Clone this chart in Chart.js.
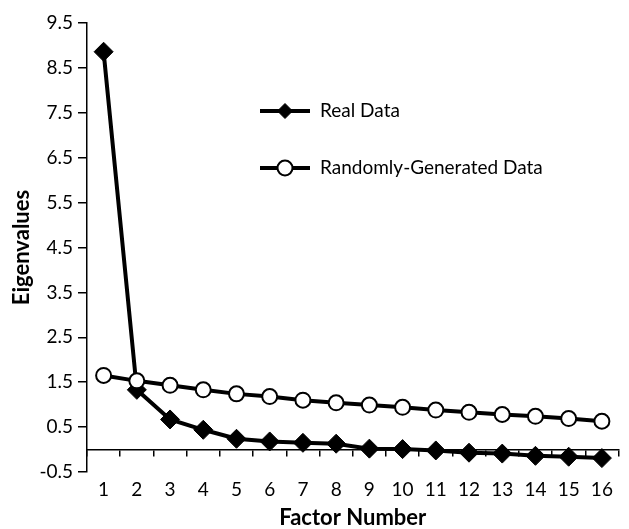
<!DOCTYPE html>
<html>
<head>
<meta charset="utf-8">
<script src="https://cdn.jsdelivr.net/npm/chart.js@4.4.1/dist/chart.umd.min.js"></script>
<style>
  html, body { margin: 0; padding: 0; background: #fff; }
  #wrap { width: 629px; height: 529px; }
</style>
</head>
<body>
<div id="wrap"><canvas id="screeChart" width="629" height="529"></canvas></div>
<script>
//SETUP
const factors = ['1', '2', '3', '4', '5', '6', '7', '8', '9', '10', '11', '12', '13', '14', '15', '16'];
const realData = [8.86, 1.33, 0.67, 0.44, 0.24, 0.18, 0.15, 0.13, 0.02, 0.01, -0.02, -0.07, -0.09, -0.14, -0.16, -0.19];
const randomData = [1.65, 1.53, 1.43, 1.33, 1.24, 1.18, 1.10, 1.04, 0.99, 0.94, 0.88, 0.83, 0.78, 0.74, 0.69, 0.63];
const seriesNames = ['Real Data', 'Randomly-Generated Data'];
const yMin = -0.5;
const yMax = 9.5;
//SETUP

Chart.defaults.font.family = 'Lato, "Open Sans", sans-serif';
Chart.defaults.color = '#000';

// legend drawn inside the plot, like the original
const innerLegend = {
  id: 'innerLegend',
  afterDatasetsDraw(chart) {
    const ctx = chart.ctx;
    const rows = [111, 168];
    chart.data.datasets.forEach((ds, i) => {
      const y = rows[i];
      ctx.save();
      ctx.strokeStyle = '#000';
      ctx.lineWidth = 4;
      ctx.beginPath();
      ctx.moveTo(260, y);
      ctx.lineTo(310, y);
      ctx.stroke();
      ctx.fillStyle = ds.pointBackgroundColor;
      ctx.strokeStyle = '#000';
      ctx.lineWidth = ds.pointBorderWidth;
      Chart.helpers.drawPoint(ctx, { pointStyle: ds.pointStyle, radius: 7.5, rotation: 0, borderWidth: ds.pointBorderWidth }, 285, y);
      ctx.fillStyle = '#000';
      ctx.font = '19px Lato, "Open Sans", sans-serif';
      ctx.textBaseline = 'middle';
      ctx.textAlign = 'left';
      ctx.fillText(ds.label, 320, y);
      ctx.restore();
    });
  }
};

//CONFIGURE
const config = {
  type: 'line',
  data: {
    labels: factors,
    datasets: [{
      label: seriesNames[0],
      data: realData,
      borderColor: '#000',
      borderWidth: 4,
      pointStyle: 'rectRot',
      pointRadius: 9.5,
      pointBackgroundColor: '#000',
      pointBorderColor: '#000',
      pointBorderWidth: 1,
      tension: 0,
      order: 1
    }, {
      label: seriesNames[1],
      data: randomData,
      borderColor: '#000',
      borderWidth: 4,
      pointStyle: 'circle',
      pointRadius: 7.5,
      pointBackgroundColor: '#fff',
      pointBorderColor: '#000',
      pointBorderWidth: 2,
      tension: 0,
      order: 0
    }]
  },
  options: {
    responsive: false,
    animation: false,
    devicePixelRatio: 1,
    layout: { padding: { top: 23, right: 0, bottom: 0, left: 0 } },
    plugins: {
      legend: { display: false },
      tooltip: { enabled: false }
    },
    scales: {
      x: {
        type: 'category',
        offset: true,
        grid: { display: false },
        border: { display: false },
        ticks: { padding: -2, font: { size: 19 }, maxRotation: 0, autoSkip: false },
        title: {
          display: true,
          text: 'Factor Number',
          font: { size: 22, weight: 'bold', lineHeight: 1 },
          padding: { top: 0, bottom: 0 }
        },
        afterFit(scale) { scale.height = 57; }
      },
      zero: {
        type: 'category',
        axis: 'x',
        position: { y: 0 },
        offset: true,
        ticks: { display: false },
        grid: { drawOnChartArea: false, offset: true, tickLength: 6, color: '#000', lineWidth: 1.5 },
        border: { color: '#000', width: 1.5 }
      },
      y: {
        min: yMin,
        max: yMax,
        ticks: {
          stepSize: 1,
          padding: 5,
          font: { size: 19 },
          callback: v => v.toFixed(1)
        },
        grid: { drawOnChartArea: false, tickLength: 9, color: '#000', lineWidth: 1.5 },
        border: { color: '#000', width: 1.5 },
        title: {
          display: true,
          text: 'Eigenvalues',
          font: { size: 22, weight: 'bold', lineHeight: 1 },
          padding: { top: 11, bottom: 0 }
        },
        afterFit(scale) { scale.width = 87; }
      }
    }
  },
  plugins: [innerLegend]
};
//CONFIGURE

//IMPLEMENT
const screeChart = new Chart(document.getElementById('screeChart'), config);
//IMPLEMENT
</script>
</body>
</html>
